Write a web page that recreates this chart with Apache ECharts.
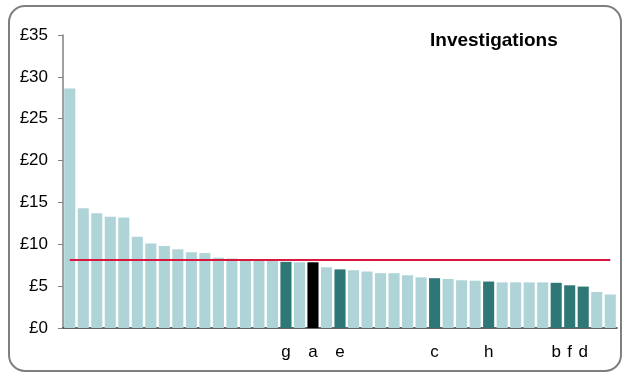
<!DOCTYPE html>
<html>
<head>
<meta charset="utf-8">
<script src="https://cdn.jsdelivr.net/npm/echarts@6/dist/echarts.min.js"></script>
<style>
html,body{margin:0;padding:0;background:#fff;}
#chart{width:625px;height:374px;}
</style>
</head>
<body>
<div id="chart"></div>
<script>
// Category labels (blank where unlabeled)
const labels = ['','','','','','','','','','','','','','','','','g','','a','','e','','','','','','','c','','','','h','','','','','b','f','d','',''];
// Values (£)
const values = [28.6,14.3,13.7,13.3,13.2,10.9,10.1,9.8,9.4,9.05,8.95,8.4,8.3,8.2,8.1,8.05,7.9,7.85,7.85,7.25,7.0,6.9,6.75,6.55,6.55,6.3,6.05,5.95,5.85,5.7,5.65,5.55,5.45,5.45,5.45,5.45,5.4,5.1,4.95,4.3,4.0];
// Highlight type per bar: 0 = other, 1 = named, 2 = focus
const kinds = [0,0,0,0,0,0,0,0,0,0,0,0,0,0,0,0,1,0,2,0,1,0,0,0,0,0,0,1,0,0,0,1,0,0,0,0,1,1,1,0,0];
const averageValue = 8.13;
const yTicks = [0,5,10,15,20,25,30,35];

const colors = ['#aed4d7','#2f7777','#000000'];
const cats = labels.map((l,i)=>'c'+i);

const chart = echarts.init(document.getElementById('chart'), null, {renderer:'canvas'});
chart.setOption({
  animation:false,
  backgroundColor:'#ffffff',
  textStyle:{fontFamily:'Liberation Sans, Arial, sans-serif'},
  graphic:[
    {type:'rect', shape:{x:9,y:6,width:612,height:365,r:16}, style:{fill:null, stroke:'#7f7f7f', lineWidth:2}, z:-1},
    {type:'text', left:430, top:31, style:{text:'Investigations', font:'bold 19px "Liberation Sans", Arial, sans-serif', fill:'#000'}}
  ],
  grid:{left:63, right:8, top:35, bottom:46, containLabel:false},
  xAxis:{
    type:'category', data:cats,
    axisLine:{lineStyle:{color:'#333333', width:1.5}},
    axisTick:{show:false},
    axisLabel:{interval:0, margin:16, fontSize:17, color:'#000', formatter:(v,i)=>labels[i]}
  },
  yAxis:{
    type:'value', min:yTicks[0], max:yTicks[yTicks.length-1], interval:5,
    axisLine:{show:true, lineStyle:{color:'#808080', width:1.5}},
    axisTick:{show:true, inside:false, length:5, lineStyle:{color:'#808080'}},
    splitLine:{show:false},
    axisLabel:{fontSize:17, color:'#000', margin:15, formatter:'£{value}'}
  },
  series:[{
    type:'bar',
    data:values.map((v,i)=>({value:v, itemStyle:{color:colors[kinds[i]]}})),
    barCategoryGap:'18%',
    markLine:{
      silent:true, symbol:'none', label:{show:false},
      lineStyle:{color:'#d9163d', width:2, type:'solid'},
      data:[[{coord:[0,averageValue]},{coord:[labels.length-1,averageValue]}]]
    }
  }]
});
</script>
</body>
</html>
